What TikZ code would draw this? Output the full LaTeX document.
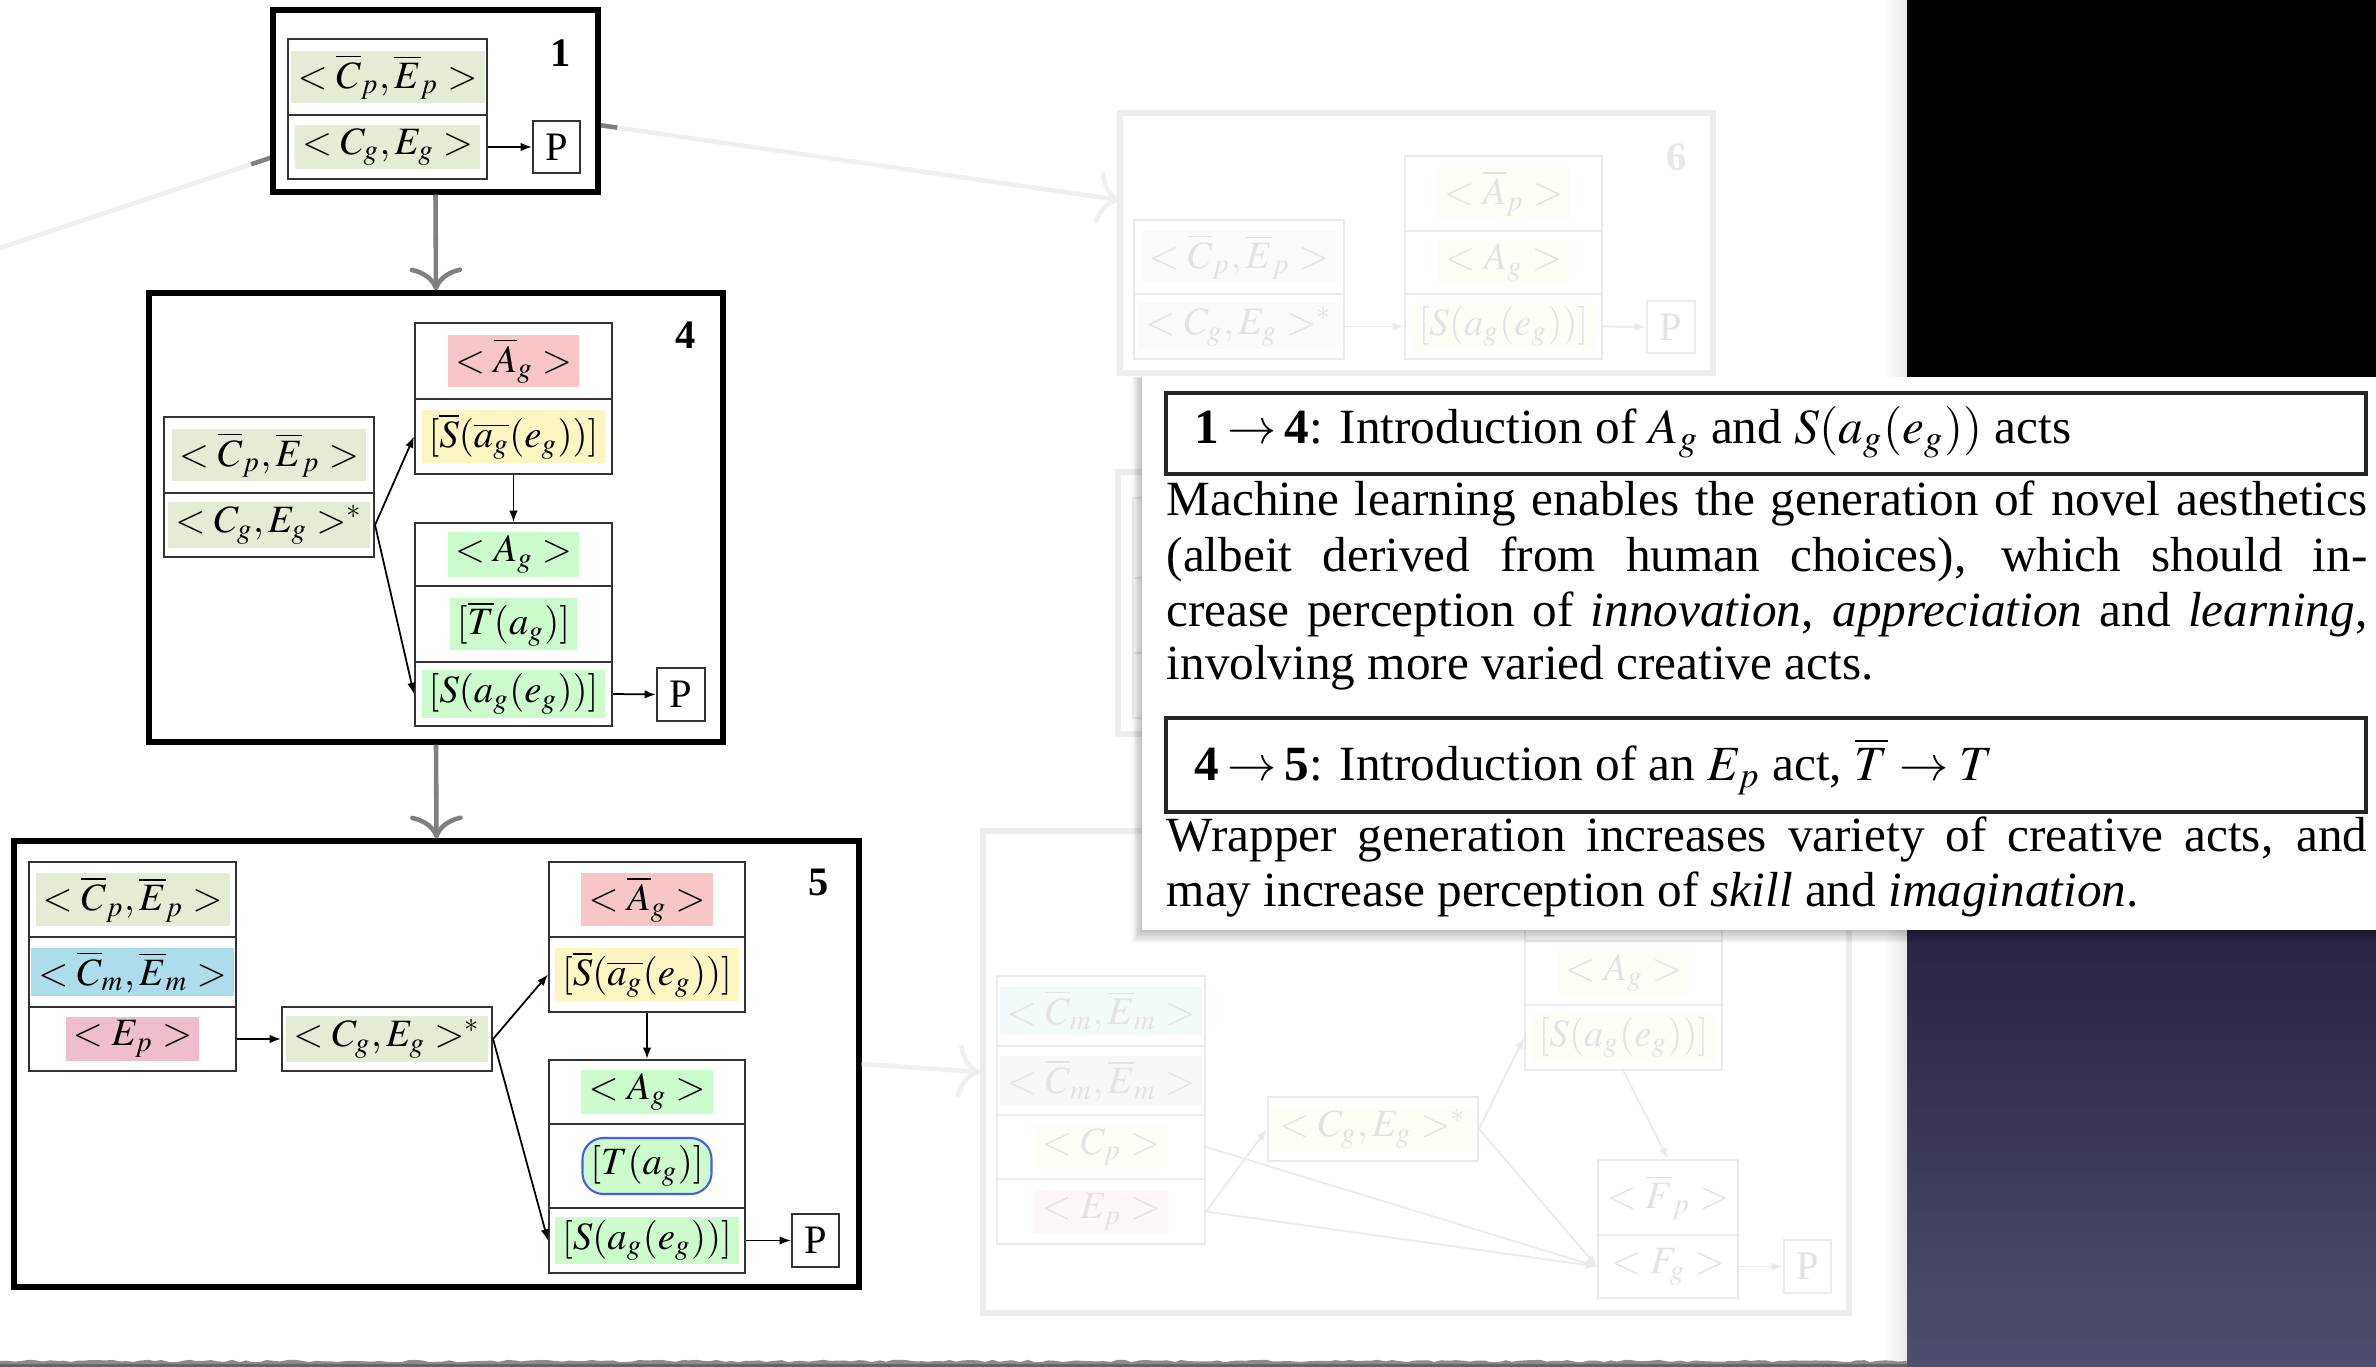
\documentclass[tikz,border=0pt]{standalone}
\usepackage{mathptmx}
\usepackage{fontspec}
\setmainfont{Liberation Serif}
\usetikzlibrary{fit,arrows.meta,calc,decorations.pathmorphing}

\definecolor{olv}{HTML}{E4ECD5}
\definecolor{pnk}{HTML}{F8C6C6}
\definecolor{ylw}{HTML}{FDF5C2}
\definecolor{grn}{HTML}{CCFCCC}
\definecolor{blu}{HTML}{ADDCEA}
\definecolor{rose}{HTML}{F0BDCD}
\definecolor{tblue}{HTML}{4A5CF0}
\definecolor{navytop}{RGB}{38,38,66}
\definecolor{navybot}{RGB}{78,78,110}

\tikzset{
  cellbox/.style={draw=black!80, line width=0.6pt, inner sep=0pt},
  fcell/.style={draw=black!8, line width=0.6pt, inner sep=0pt},
  outerbox/.style={draw=black, line width=1.5pt, inner sep=0pt},
  fouter/.style={draw=black!7, line width=1.5pt, inner sep=0pt},
  hlt/.style={inner xsep=2pt, inner ysep=1pt, font=\fontsize{11}{13}\selectfont},
  fhlt/.style={hlt, text=black!11},
  numlbl/.style={font=\fontsize{11.5}{13}\selectfont\bfseries, inner sep=0pt},
  ptext/.style={font=\fontsize{11.5}{13}\selectfont, inner sep=0pt},
  arr/.style={-{Latex[length=3.2pt,width=2.4pt]}, line width=0.5pt, draw=black},
  farr/.style={-{Latex[length=3.2pt,width=2.4pt]}, line width=0.5pt, draw=black!8},
  bigarr/.style={-{Computer Modern Rightarrow[length=6.5pt,width=15pt]}, draw=black!50, line width=1.3pt},
  fbigarr/.style={-{Computer Modern Rightarrow[length=6.5pt,width=15pt]}, draw=black!6, line width=1.3pt},
  body/.style={font=\fontsize{14}{15.6}\selectfont, inner sep=0pt, anchor=base west},
}

% a table cell given by two corners
\newcommand{\cellnode}[6][cellbox]{\node[#1, fit={(#3,#4) (#5,#6)}] (#2) {};}

\begin{document}
\begin{tikzpicture}[x=0.01cm, y=-0.01cm]
\fill[white] (0,0) rectangle (2376,1367);
\useasboundingbox (0,0) rectangle (2376,1367);

% ---------- page edge and dark backdrop ----------
\shade[left color=white, right color=black!9] (1885,0) rectangle (1907,1367);
\fill[black] (1907,0) rectangle (2376,380);
\shade[top color=navytop, bottom color=navybot] (1907,925) rectangle (2376,1367);

% ---------- faded connectors around state 1 ----------
\coordinate (offl) at (0,248);
\coordinate (f1in) at (273,157);
\coordinate (f1out) at (599,125);
\coordinate (f6in) at (1120,200);
\draw[line width=1.3pt, black!6] (offl) -- (f1in);
\draw[line width=1.3pt, black!50] (f1in) -- ($(f1in)!0.08!(offl)$);
\draw[fbigarr] (f1out) -- (f6in);
\draw[line width=1.3pt, black!50] (f1out) -- ($(f1out)!0.035!(f6in)$);

% ---------- faded state 6 ----------
\cellnode[fouter]{frame6}{1120}{113}{1713}{373}
\node[numlbl, text=black!9] (n6) at (1677,157) {6};
\cellnode[fcell]{b6a}{1134}{220}{1344}{294}
\cellnode[fcell]{b6b}{1134}{294}{1344}{359}
\cellnode[fcell]{b6c}{1405}{156}{1602}{231}
\cellnode[fcell]{b6d}{1405}{231}{1602}{294}
\cellnode[fcell]{b6e}{1405}{294}{1602}{359}
\cellnode[fcell]{b6P}{1647}{301}{1695}{353}
\node[fhlt, fill=olv!15] (b6at) at (b6a) {$<\overline{C}_p,\overline{E}_p>$};
\node[fhlt, fill=olv!15] (b6bt) at (b6b) {$<C_g,E_g>^*$};
\node[fhlt, fill=ylw!15] (b6ct) at (b6c) {$<\overline{A}_p>$};
\node[fhlt, fill=ylw!15] (b6dt) at (b6d) {$<A_g>$};
\node[fhlt, fill=ylw!15] (b6et) at (b6e) {$[S(a_g(e_g))]$};
\node[ptext, text=black!11] (b6Pt) at (b6P) {P};
\draw[farr] (b6b.east) -- (b6e.west);
\draw[farr] (b6e.east) -- (b6P.west);

% ---------- faded middle state (mostly covered) ----------
\cellnode[fouter]{frame7}{1118}{472}{1700}{734}
\cellnode[fcell]{b7a}{1133}{498}{1300}{578}
\cellnode[fcell]{b7b}{1133}{578}{1300}{653}
\cellnode[fcell]{b7c}{1133}{653}{1300}{718}

% ---------- faded lower state ----------
\cellnode[fouter]{frame8}{983}{831}{1849}{1313}
\cellnode[fcell]{c1}{997}{976}{1205}{1046}
\cellnode[fcell]{c2}{997}{1046}{1205}{1115}
\cellnode[fcell]{c3}{997}{1115}{1205}{1179}
\cellnode[fcell]{c4}{997}{1179}{1205}{1244}
\cellnode[fcell]{cm}{1268}{1097}{1478}{1161}
\cellnode[fcell]{cu0}{1525}{870}{1722}{941}
\cellnode[fcell]{cu1}{1525}{941}{1722}{1005}
\cellnode[fcell]{cu2}{1525}{1005}{1722}{1070}
\cellnode[fcell]{cl1}{1598}{1160}{1738}{1235}
\cellnode[fcell]{cl2}{1598}{1235}{1738}{1298}
\cellnode[fcell]{cP}{1784}{1240}{1831}{1293}
\node[fhlt, fill=blu!15] (c1t) at (c1) {$<\overline{C}_m,\overline{E}_m>$};
\node[fhlt, fill=black!3] (c2t) at (c2) {$<\overline{C}_m,\overline{E}_m>$};
\node[fhlt, fill=ylw!15] (c3t) at (c3) {$<C_p>$};
\node[fhlt, fill=rose!12] (c4t) at (c4) {$<E_p>$};
\node[fhlt, fill=ylw!15] (cmt) at (cm) {$<C_g,E_g>^*$};
\node[fhlt, fill=ylw!15] (cu1t) at (cu1) {$<A_g>$};
\node[fhlt, fill=ylw!15] (cu2t) at (cu2) {$[S(a_g(e_g))]$};
\node[fhlt] (cl1t) at (cl1) {$<\overline{F}_p>$};
\node[fhlt] (cl2t) at (cl2) {$<F_g>$};
\node[ptext, text=black!11] (cPt) at (cP) {P};
\draw[farr] (c4.east) -- (cm.west);
\draw[farr] (c3.east) -- (cl2.west);
\draw[farr] (c4.east) -- (cl2.west);
\draw[farr] (cm.east) -- (cu2.west);
\draw[farr] (cm.east) -- (cl2.west);
\draw[farr] (cu2.south) -- (cl1.north);
\draw[farr] (cl2.east) -- (cP.west);

% ---------- state 1 ----------
\cellnode[outerbox]{frame1}{273}{10}{598}{192}
\node[numlbl] (n1) at (561,53) {1};
\cellnode{b1a}{288}{39}{487}{115}
\cellnode{b1b}{288}{115}{487}{179}
\cellnode{b1P}{533}{121}{580}{173}
\node[hlt, fill=olv] (b1at) at (b1a) {$<\overline{C}_p,\overline{E}_p>$};
\node[hlt, fill=olv] (b1bt) at (b1b) {$<C_g,E_g>$};
\node[ptext] (b1Pt) at (b1P) {P};
\draw[arr] (b1b.east) -- (b1P.west);

% ---------- state 4 ----------
\cellnode[outerbox]{frame4}{149}{293}{723}{742}
\node[numlbl] (n4) at (686,335) {4};
\cellnode{b4a}{164}{417}{374}{493}
\cellnode{b4b}{164}{493}{374}{557}
\cellnode{b4c}{415}{323}{612}{399}
\cellnode{b4d}{415}{399}{612}{474}
\cellnode{b4e}{415}{523}{612}{586}
\cellnode{b4f}{415}{586}{612}{662}
\cellnode{b4g}{415}{662}{612}{726}
\cellnode{b4P}{657}{668}{705}{721}
\node[hlt, fill=olv] (b4at) at (b4a) {$<\overline{C}_p,\overline{E}_p>$};
\node[hlt, fill=olv] (b4bt) at (b4b) {$<C_g,E_g>^*$};
\node[hlt, fill=pnk] (b4ct) at (b4c) {$<\overline{A}_g>$};
\node[hlt, fill=ylw] (b4dt) at (b4d) {$[\overline{S}(\overline{a_g}(e_g))]$};
\node[hlt, fill=grn] (b4et) at (b4e) {$<A_g>$};
\node[hlt, fill=grn] (b4ft) at (b4f) {$[\overline{T}(a_g)]$};
\node[hlt, fill=grn] (b4gt) at (b4g) {$[S(a_g(e_g))]$};
\node[ptext] (b4Pt) at (b4P) {P};
\draw[arr] (b4b.east) -- (b4d.west);
\draw[arr] (b4b.east) -- (b4g.west);
\draw[arr] (b4d.south) -- (b4e.north);
\draw[arr] (b4g.east) -- (b4P.west);

% ---------- state 5 ----------
\cellnode[outerbox]{frame5}{14}{841}{859}{1287}
\node[numlbl] (n5) at (819,882) {5};
\cellnode{b5a}{29}{862}{236}{937}
\cellnode{b5b}{29}{937}{236}{1007}
\cellnode{b5c}{29}{1007}{236}{1071}
\cellnode{b5m}{282}{1007}{492}{1071}
\cellnode{b5d}{549}{862}{745}{937}
\cellnode{b5e}{549}{937}{745}{1012}
\cellnode{b5f}{549}{1060}{745}{1124}
\cellnode{b5g}{549}{1124}{745}{1208}
\cellnode{b5h}{549}{1208}{745}{1273}
\cellnode{b5P}{792}{1214}{839}{1267}
\node[hlt, fill=olv] (b5at) at (b5a) {$<\overline{C}_p,\overline{E}_p>$};
\node[hlt, fill=blu] (b5bt) at (b5b) {$<\overline{C}_m,\overline{E}_m>$};
\node[hlt, fill=rose] (b5ct) at (b5c) {$<E_p>$};
\node[hlt, fill=olv] (b5mt) at (b5m) {$<C_g,E_g>^*$};
\node[hlt, fill=pnk] (b5dt) at (b5d) {$<\overline{A}_g>$};
\node[hlt, fill=ylw] (b5et) at (b5e) {$[\overline{S}(\overline{a_g}(e_g))]$};
\node[hlt, fill=grn] (b5ft) at (b5f) {$<A_g>$};
\node[hlt, fill=grn, draw=tblue, line width=0.6pt, rounded corners=6pt,
      minimum width=1.29cm, minimum height=0.56cm] (b5gt) at (b5g) {$[T(a_g)]$};
\node[hlt, fill=grn] (b5ht) at (b5h) {$[S(a_g(e_g))]$};
\node[ptext] (b5Pt) at (b5P) {P};
\draw[arr] (b5c.east) -- (b5m.west);
\draw[arr] (b5m.east) -- (b5e.west);
\draw[arr] (b5m.east) -- (b5h.west);
\draw[arr] (b5e.south) -- (b5f.north);
\draw[arr] (b5h.east) -- (b5P.west);

% ---------- transitions between states ----------
\draw[bigarr] (frame1.south) -- (frame4.north);
\draw[bigarr] (frame4.south) -- (frame5.north);
\draw[fbigarr] (frame5.east) -- (frame8.west);

% ---------- torn lower edge of the page ----------
\pgfmathsetseed{7}
\fill[black!45, decorate, decoration={random steps, segment length=2pt, amplitude=0.35pt}]
  (0,1361) -- (1907,1361) -- (1907,1367) -- (0,1367) -- cycle;
\fill[black!60] (0,1364) rectangle (1907,1367);

% ---------- caption panel ----------
\foreach \i in {1,...,8}
  \fill[black, opacity=0.03] (1142-\i*1.2, 377-\i*0.3+2) rectangle (2376, 930+\i*1.6);
\fill[white] (1142,377) rectangle (2376,930);

\node[draw=black!85, line width=1pt, fill=white, inner sep=0pt, fit={(1166,393) (2366,474)}] (h1) {};
\node[draw=black!85, line width=1pt, fill=white, inner sep=0pt, fit={(1166,718) (2366,812)}] (h2) {};

\node[body] (h1t) at (1194,443)
  {\textbf{1}\,$\rightarrow$\,\textbf{4}: Introduction of $A_g$ and $S(a_g(e_g))$ acts};
\node[body] (p1a) at (1166,515)
  {\makebox[12.0cm][s]{Machine learning enables the generation of novel aesthetics}};
\node[body] (p1b) at (1166,571)
  {\makebox[12.0cm][s]{(albeit derived from human choices), which should in-}};
\node[body] (p1c) at (1166,626)
  {\makebox[12.0cm][s]{crease perception of \emph{innovation}, \emph{appreciation} and \emph{learning},}};
\node[body] (p1d) at (1166,679)
  {involving more varied creative acts.};

\node[body] (h2t) at (1194,780)
  {\textbf{4}\,$\rightarrow$\,\textbf{5}: Introduction of an $E_p$ act, $\overline{T}\rightarrow T$};
\node[body] (p2a) at (1166,851)
  {\makebox[12.0cm][s]{Wrapper generation increases variety of creative acts, and}};
\node[body] (p2b) at (1166,906)
  {may increase perception of \emph{skill} and \emph{imagination}.};
\end{tikzpicture}
\end{document}
